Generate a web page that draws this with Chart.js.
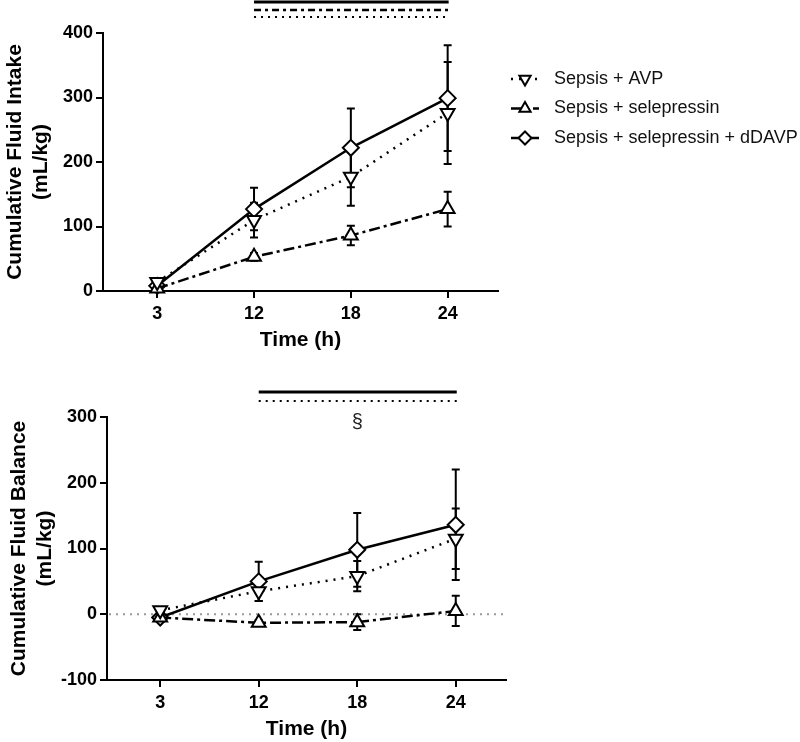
<!DOCTYPE html>
<html>
<head>
<meta charset="utf-8">
<script src="https://cdn.jsdelivr.net/npm/chart.js@4.4.0/dist/chart.umd.min.js"></script>
<style>
  body { margin: 0; background: #fff; }
  #chart-intake { position: absolute; left: 0; top: 0; }
  #chart-balance { position: absolute; left: 0; top: 360px; }
</style>
</head>
<body>
<canvas id="chart-intake" width="800" height="360"></canvas>
<canvas id="chart-balance" width="800" height="382"></canvas>
<script>
// data
const timeLabels = ['3', '12', '18', '24'];
const seriesNames = ['Sepsis + AVP', 'Sepsis + selepressin', 'Sepsis + selepressin + dDAVP'];

const intakeAvp = [14, 110, 177, 276];
const intakeAvpErr = [4, 27, 45, 79];
const intakeSele = [4, 53, 86, 127];
const intakeSeleErr = [3, 6, 15, 27];
const intakeDdavp = [8, 127, 222, 299];
const intakeDdavpErr = [4, 33, 61, 82];

const balanceAvp = [6, 35, 58, 115];
const balanceAvpErr = [4, 15, 23, 46];
const balanceSele = [-5, -13, -12, 5];
const balanceSeleErr = [3, 4, 12, 23];
const balanceDdavp = [-5, 50, 98, 136];
const balanceDdavpErr = [4, 30, 56, 84];

const intakeTicks = [0, 100, 200, 300, 400];
const balanceTicks = [-100, 0, 100, 200, 300];

Chart.defaults.font.family = "'Liberation Sans', Arial, sans-serif";
Chart.defaults.color = '#000';

const seriesStyle = [
    { dash: [2, 6], pointStyle: 'triangle', rotation: 180 },
    { dash: [11, 4, 3, 4], pointStyle: 'triangle', rotation: 0 },
    { dash: [], pointStyle: 'rectRot', rotation: 0 },
];

function makeDatasets(series) {
    return series.map((vals, s) => ({
        label: seriesNames[s],
        data: vals.map((v, i) => ({ x: i, y: v })),
        borderColor: '#000',
        borderWidth: 2.5,
        borderDash: seriesStyle[s].dash,
        pointStyle: seriesStyle[s].pointStyle,
        rotation: seriesStyle[s].rotation,
        pointRadius: 8,
        pointBorderWidth: 2,
        pointBackgroundColor: '#fff',
        pointBorderColor: '#000',
        tension: 0,
        clip: false,
    }));
}

const errorBars = {
    id: 'errorBars',
    beforeDatasetsDraw(chart, args, opts) {
        const ctx = chart.ctx;
        const y = chart.scales.y;
        ctx.save();
        ctx.strokeStyle = '#000';
        ctx.lineWidth = 2;
        ctx.setLineDash([]);
        chart.data.datasets.forEach((ds, di) => {
            const err = opts.errors[di];
            chart.getDatasetMeta(di).data.forEach((pt, i) => {
                const v = ds.data[i].y;
                const yt = y.getPixelForValue(v + err[i]);
                const yb = y.getPixelForValue(v - err[i]);
                ctx.beginPath();
                ctx.moveTo(pt.x, yt); ctx.lineTo(pt.x, yb);
                ctx.moveTo(pt.x - 4, yt); ctx.lineTo(pt.x + 4, yt);
                ctx.moveTo(pt.x - 4, yb); ctx.lineTo(pt.x + 4, yb);
                ctx.stroke();
            });
        });
        ctx.restore();
    }
};

const zeroLine = {
    id: 'zeroLine',
    beforeDatasetsDraw(chart, args, opts) {
        if (!opts.show) return;
        const ctx = chart.ctx;
        const py = chart.scales.y.getPixelForValue(0);
        ctx.save();
        ctx.strokeStyle = '#999';
        ctx.lineWidth = 2;
        ctx.setLineDash([2, 5]);
        ctx.beginPath();
        ctx.moveTo(chart.chartArea.left + 2, py);
        ctx.lineTo(chart.chartArea.right, py);
        ctx.stroke();
        ctx.restore();
    }
};

const sigBars = {
    id: 'sigBars',
    afterDraw(chart, args, opts) {
        if (!opts.bars) return;
        const ctx = chart.ctx;
        const x = chart.scales.x;
        const top = chart.chartArea.top;
        ctx.save();
        ctx.strokeStyle = '#000';
        opts.bars.forEach(b => {
            ctx.lineWidth = b.width;
            ctx.setLineDash(b.dash);
            ctx.beginPath();
            ctx.moveTo(x.getPixelForValue(b.from), top - b.offset);
            ctx.lineTo(x.getPixelForValue(b.to) + 1, top - b.offset);
            ctx.stroke();
        });
        if (opts.mark) {
            ctx.fillStyle = '#222';
            ctx.font = "20px 'Liberation Sans', Arial, sans-serif";
            ctx.textAlign = 'center';
            ctx.textBaseline = 'middle';
            ctx.fillText(opts.mark.text, x.getPixelForValue(opts.mark.at), top - opts.mark.offset);
        }
        ctx.restore();
    }
};

const sideLegend = {
    id: 'sideLegend',
    afterDraw(chart, args, opts) {
        if (!opts.show) return;
        const ctx = chart.ctx;
        ctx.save();
        chart.data.datasets.forEach((ds, i) => {
            const ly = 79 + i * 29.5;
            ctx.strokeStyle = '#000';
            ctx.lineWidth = 2.5;
            ctx.setLineDash(ds.borderDash);
            ctx.beginPath();
            ctx.moveTo(511, ly);
            ctx.lineTo(539, ly);
            ctx.stroke();
            ctx.setLineDash([]);
            ctx.lineWidth = 2;
            ctx.fillStyle = '#fff';
            Chart.helpers.drawPoint(ctx, {
                pointStyle: ds.pointStyle, rotation: ds.rotation, radius: 6.5, borderWidth: 2
            }, 525, ly);
            ctx.fillStyle = '#111';
            ctx.font = "18px 'Liberation Sans', Arial, sans-serif";
            ctx.textAlign = 'left';
            ctx.textBaseline = 'middle';
            ctx.fillText(ds.label, 554, ly);
        });
        ctx.restore();
    }
};

function makeChart(id, series, errors, yTicks, yTitle, geo, extra) {
    const ctx = document.getElementById(id).getContext('2d');
    return new Chart(ctx, {
        type: 'line',
        data: { datasets: makeDatasets(series) },
        plugins: [errorBars, zeroLine, sigBars, sideLegend],
        options: {
            responsive: false,
            animation: false,
            layout: { padding: { top: geo.top, right: geo.right, left: 0, bottom: 0 } },
            plugins: {
                legend: { display: false },
                tooltip: { enabled: false },
                errorBars: { errors: errors },
                zeroLine: { show: extra.zero },
                sigBars: { bars: extra.bars, mark: extra.mark },
                sideLegend: { show: extra.legend },
            },
            scales: {
                x: {
                    type: 'linear',
                    min: geo.xmin,
                    max: geo.xmax,
                    afterBuildTicks: (s) => { s.ticks = timeLabels.map((t, i) => ({ value: i })); },
                    afterFit: (s) => { s.height = geo.xh; },
                    ticks: {
                        callback: (v) => timeLabels[v],
                        autoSkip: false,
                        maxRotation: 0,
                        padding: 5,
                        color: '#000',
                        font: { size: 18, weight: 'bold' },
                    },
                    grid: { display: true, drawOnChartArea: false, drawTicks: true, tickLength: 7, color: '#000', lineWidth: 2 },
                    border: { display: true, color: '#000', width: 2 },
                    title: {
                        display: true,
                        text: 'Time (h)',
                        color: '#000',
                        font: { size: 21, weight: 'bold' },
                        padding: { top: 0, bottom: geo.xtp },
                    },
                },
                y: {
                    min: yTicks[0],
                    max: yTicks[yTicks.length - 1],
                    afterBuildTicks: (s) => { s.ticks = yTicks.map(v => ({ value: v })); },
                    afterFit: (s) => { s.width = geo.left; },
                    ticks: {
                        padding: 3,
                        color: '#000',
                        font: { size: 18, weight: 'bold' },
                    },
                    grid: { display: true, drawOnChartArea: false, drawTicks: true, tickLength: 7, color: '#000', lineWidth: 2 },
                    border: { display: true, color: '#000', width: 2 },
                    title: {
                        display: true,
                        text: [yTitle, '(mL/kg)'],
                        color: '#000',
                        font: { size: 21, weight: 'bold', lineHeight: 1.2 },
                        padding: { top: geo.ytp, bottom: 0 },
                    },
                },
            },
        },
    });
}

makeChart('chart-intake',
    [intakeAvp, intakeSele, intakeDdavp],
    [intakeAvpErr, intakeSeleErr, intakeDdavpErr],
    intakeTicks, 'Cumulative Fluid Intake',
    { top: 33, right: 302, left: 103, xh: 69, xmin: -0.56, xmax: 3.52, xtp: 7, ytp: 3 },
    {
        zero: false, legend: true,
        bars: [
            { from: 1, to: 3, offset: 31, width: 3, dash: [] },
            { from: 1, to: 3, offset: 23, width: 2.5, dash: [7, 4, 3, 4] },
            { from: 1, to: 3, offset: 16, width: 2, dash: [2, 5] },
        ],
    });

makeChart('chart-balance',
    [balanceAvp, balanceSele, balanceDdavp],
    [balanceAvpErr, balanceSeleErr, balanceDdavpErr],
    balanceTicks, 'Cumulative Fluid Balance',
    { top: 57, right: 294, left: 107, xh: 62, xmin: -0.54, xmax: 3.51, xtp: 0, ytp: 7 },
    {
        zero: true, legend: false,
        bars: [
            { from: 1, to: 3, offset: 25, width: 3, dash: [] },
            { from: 1, to: 3, offset: 16, width: 2, dash: [2, 5] },
        ],
        mark: { text: '§', at: 2, offset: -5 },
    });
</script>
</body>
</html>
